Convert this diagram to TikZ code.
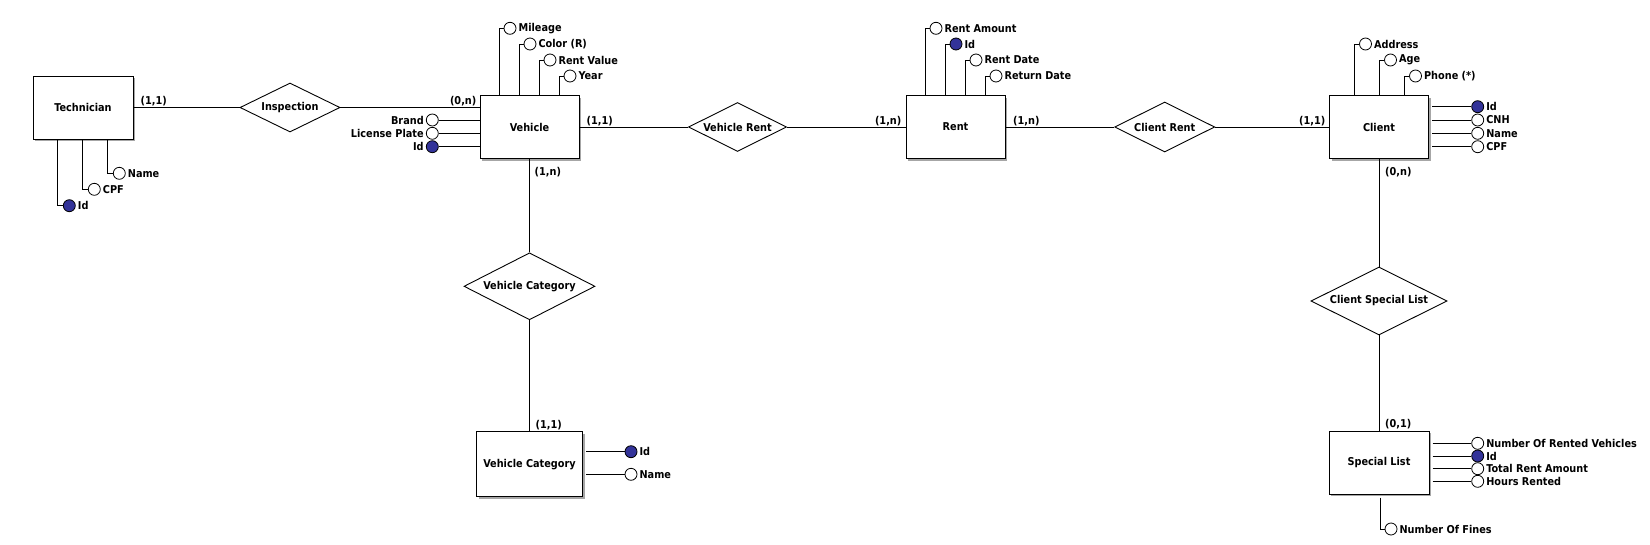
\documentclass[tikz,border=0pt]{standalone}
\usepackage{fontspec}
\setmainfont{DejaVu Sans Condensed}[BoldFont={DejaVu Sans Condensed Bold}]
\usetikzlibrary{shapes.geometric,shadows,calc}
\definecolor{keyblue}{RGB}{51,51,153}
\tikzset{
  every node/.style={font=\fontsize{10.8}{12}\selectfont\bfseries},
  entity/.style={draw, fill=white, line width=1pt, minimum width=99pt, minimum height=63pt, inner sep=0pt,
    general shadow={fill=black!35, shadow xshift=2pt, shadow yshift=-2pt}},
  rel/.style={draw, diamond, aspect=2, fill=white, inner sep=0pt, line width=0.9pt},
  attr/.style={draw, circle, fill=white, minimum size=12pt, inner sep=0pt, line width=0.8pt},
  keyattr/.style={attr, fill=keyblue},
  conn/.style={line width=1pt},
  card/.style={inner sep=0pt},
  rlab/.style={label={[inner sep=2pt]right:#1}},
  llab/.style={label={[inner sep=2pt]left:#1}},
}
\begin{document}
\begin{tikzpicture}[x=1pt,y=-1pt]
\useasboundingbox[fill=white] (0,0) rectangle (1650,544);

% entities
\node[entity, minimum width=100pt] (tech) at (83,107.5) {Technician};
\node[entity] (veh) at (529.5,127) {Vehicle};
\node[entity] (rent) at (955.5,127) {Rent};
\node[entity] (client) at (1379,127) {Client};
\node[entity, minimum width=106pt, minimum height=65pt] (vcat) at (529.5,464.3) {Vehicle Category};
\node[entity, minimum width=100pt] (sl) at (1379,462.5) {Special List};

% relationships
\node[rel, minimum width=100pt, minimum height=49pt] (insp) at (290,107.5) {Inspection};
\node[rel, minimum width=98pt, minimum height=49pt] (vrent) at (737.5,127) {Vehicle Rent};
\node[rel, minimum width=100pt, minimum height=50pt] (crent) at (1164.7,127) {Client Rent};
\node[rel, minimum width=131pt, minimum height=67pt] (vcrel) at (529.5,286.3) {Vehicle Category};
\node[rel, minimum width=136pt, minimum height=68pt] (csl) at (1379,301) {Client Special List};

% relationship connectors
\draw[conn] (tech.east) -- (insp.west);
\draw[conn] (insp.east) -- (insp.east -| veh.west);
\draw[conn] (veh.east) -- (vrent.west);
\draw[conn] (vrent.east) -- (rent.west);
\draw[conn] (rent.east) -- (crent.west);
\draw[conn] (crent.east) -- (client.west);
\draw[conn] (veh.south) -- (vcrel.north);
\draw[conn] (vcrel.south) -- (vcat.north);
\draw[conn] (client.south) -- (csl.north);
\draw[conn] (csl.south) -- (sl.north);

% cardinalities
\node[card, anchor=south west] (c1) at ($(tech.east)+(7,-1)$) {(1,1)};
\node[card, anchor=south east] (c2) at ($(insp.east -| veh.west)+(-3,-1)$) {(0,n)};
\node[card, anchor=south west] (c3) at ($(veh.east)+(7,-1)$) {(1,1)};
\node[card, anchor=north west] (c4) at ($(veh.south)+(5,8)$) {(1,n)};
\node[card, anchor=south east] (c5) at ($(rent.west)+(-4,-1)$) {(1,n)};
\node[card, anchor=south west] (c6) at ($(rent.east)+(7.5,-1)$) {(1,n)};
\node[card, anchor=south east] (c7) at ($(client.west)+(-3.5,-1)$) {(1,1)};
\node[card, anchor=north west] (c8) at ($(client.south)+(6,8.5)$) {(0,n)};
\node[card, anchor=south west] (c9) at ($(vcat.north)+(6,-1)$) {(1,1)};
\node[card, anchor=south west] (c10) at ($(sl.north)+(6,-1)$) {(0,1)};

% Technician attributes
\node[keyattr, rlab=Id] (tid) at (69.3,205.7) {};
\node[attr, rlab=CPF] (tcpf) at (94.3,189.3) {};
\node[attr, rlab=Name] (tname) at (119.3,173.3) {};
\draw[conn] ($(tech.south west)+(25,0)$) |- (tid.west);
\draw[conn] ($(tech.south west)+(50,0)$) |- (tcpf.west);
\draw[conn] ($(tech.south west)+(75,0)$) |- (tname.west);

% Vehicle attributes
\node[attr, rlab=Mileage] (vmil) at (510,28.3) {};
\node[attr, rlab=Color (R)] (vcol) at (530,44) {};
\node[attr, rlab=Rent Value] (vrv) at (550,60) {};
\node[attr, rlab=Year] (vyear) at (570,76) {};
\draw[conn] ($(veh.north west)+(20,0)$) |- (vmil.west);
\draw[conn] ($(veh.north west)+(40,0)$) |- (vcol.west);
\draw[conn] ($(veh.north west)+(60,0)$) |- (vrv.west);
\draw[conn] ($(veh.north west)+(80,0)$) |- (vyear.west);
\node[attr, llab=Brand] (vbrand) at (432.3,120) {};
\node[attr, llab=License Plate] (vlp) at (432.3,133.3) {};
\node[keyattr, llab=Id] (vid) at (432.3,146.7) {};
\draw[conn] (vbrand.east) -- (vbrand.east -| veh.west);
\draw[conn] (vlp.east) -- (vlp.east -| veh.west);
\draw[conn] (vid.east) -- (vid.east -| veh.west);

% Rent attributes
\node[attr, rlab=Rent Amount] (ramt) at (936,28.3) {};
\node[keyattr, rlab=Id] (rid) at (956,44) {};
\node[attr, rlab=Rent Date] (rdate) at (976,60) {};
\node[attr, rlab=Return Date] (rret) at (996,76) {};
\draw[conn] ($(rent.north west)+(20,0)$) |- (ramt.west);
\draw[conn] ($(rent.north west)+(40,0)$) |- (rid.west);
\draw[conn] ($(rent.north west)+(60,0)$) |- (rdate.west);
\draw[conn] ($(rent.north west)+(80,0)$) |- (rret.west);

% Client attributes
\node[attr, rlab=Address] (caddr) at (1365.5,44) {};
\node[attr, rlab=Age] (cage) at (1390.5,60) {};
\node[attr, rlab=Phone (*)] (cphone) at (1415.5,76) {};
\draw[conn] ($(client.north west)+(25,0)$) |- (caddr.west);
\draw[conn] ($(client.north west)+(50,0)$) |- (cage.west);
\draw[conn] ($(client.north west)+(75,0)$) |- (cphone.west);
\node[keyattr, rlab=Id] (cid) at (1477.7,106.7) {};
\node[attr, rlab=CNH] (ccnh) at (1477.7,120) {};
\node[attr, rlab=Name] (cname) at (1477.7,133.3) {};
\node[attr, rlab=CPF] (ccpf) at (1477.7,146.7) {};
\draw[conn] ($(cid.west -| client.east)+(3,0)$) -- (cid.west);
\draw[conn] ($(ccnh.west -| client.east)+(3,0)$) -- (ccnh.west);
\draw[conn] ($(cname.west -| client.east)+(3,0)$) -- (cname.west);
\draw[conn] ($(ccpf.west -| client.east)+(3,0)$) -- (ccpf.west);

% Vehicle Category attributes
\node[keyattr, rlab=Id] (vcid) at (631,451.7) {};
\node[attr, rlab=Name] (vcname) at (631,474.3) {};
\draw[conn] ($(vcid.west -| vcat.east)+(3,0)$) -- (vcid.west);
\draw[conn] ($(vcname.west -| vcat.east)+(3,0)$) -- (vcname.west);

% Special List attributes
\node[attr, rlab=Number Of Rented Vehicles] (snrv) at (1477.7,443.3) {};
\node[keyattr, rlab=Id] (sid) at (1477.7,456) {};
\node[attr, rlab=Total Rent Amount] (stra) at (1477.7,468.7) {};
\node[attr, rlab=Hours Rented] (shr) at (1477.7,481.3) {};
\draw[conn] ($(snrv.west -| sl.east)+(3,0)$) -- (snrv.west);
\draw[conn] ($(sid.west -| sl.east)+(3,0)$) -- (sid.west);
\draw[conn] ($(stra.west -| sl.east)+(3,0)$) -- (stra.west);
\draw[conn] ($(shr.west -| sl.east)+(3,0)$) -- (shr.west);
\node[attr, rlab=Number Of Fines] (snof) at (1391,529) {};
\draw[conn] ($(sl.south)+(1.5,3)$) |- (snof.west);
\end{tikzpicture}
\end{document}
